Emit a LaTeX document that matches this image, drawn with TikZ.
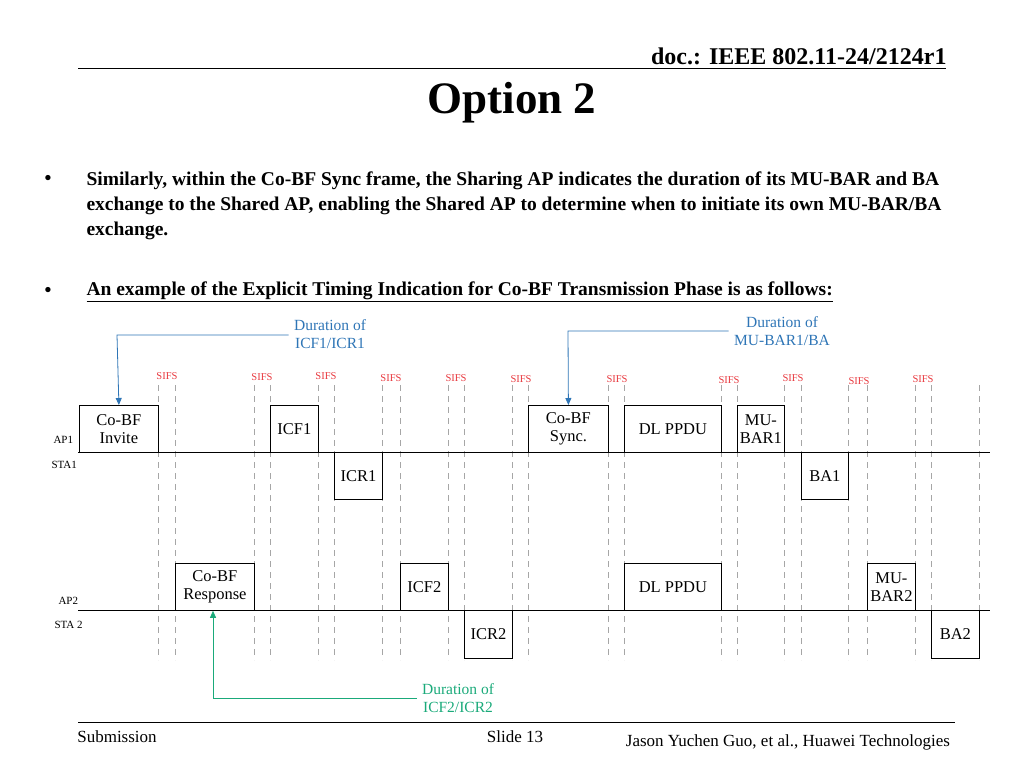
\documentclass[tikz,border=0pt]{standalone}
\usepackage{fontspec}
\setmainfont{Liberation Serif}
\definecolor{sifsred}{HTML}{E8393F}
\definecolor{durblue}{HTML}{2E75B6}
\definecolor{durgreen}{HTML}{1AAA7A}
\usetikzlibrary{arrows.meta,positioning}

\begin{document}
\begin{tikzpicture}[%
    x=1pt, y=-1pt,
    frame/.style={draw, thick, anchor=north west, inner sep=0, align=center,
        font=\fontsize{16.5}{18}\selectfont},
    sifs/.style={text=sifsred, font=\fontsize{10.5}{11}\selectfont},
    guide/.style={draw=black!35, dashed, dash pattern=on 6pt off 5pt},
    durlabel/.style={align=center, font=\fontsize{15.5}{18}\selectfont},
    station/.style={font=\fontsize{11}{12}\selectfont, anchor=west},
    pointer/.style={thick, -{Triangle[length=7pt,width=6pt]}},
    bodytext/.style={font=\bfseries\fontsize{19.5}{25}\selectfont},
    foot/.style={font=\fontsize{17}{19}\selectfont},
]
\useasboundingbox (0,0) rectangle (1024,768);

% header and footer
\node[font=\bfseries\fontsize{24}{26}\selectfont, anchor=base east] (doc) at (950,64) {doc.: IEEE 802.11-24/2124r1};
\draw[thick] (78,68) -- (946,68);
\node[font=\bfseries\fontsize{45}{48}\selectfont] (title) at (512,103) {Option 2};
\node[bodytext, anchor=north west, text width=890, align=flush left] (bulletA) at (83,168)
    {Similarly, within the Co-BF Sync frame, the Sharing AP indicates the duration of its MU-BAR and BA exchange to the Shared AP, enabling the Shared AP to determine when to initiate its own MU-BAR/BA exchange.};
\node[bodytext, anchor=west] (bulletB) at (83,292)
    {\underline{An example of the Explicit Timing Indication for Co-BF Transmission Phase is as follows:}};
\node[bodytext] (dotA) at (48,180) {\textbullet};
\node[bodytext] (dotB) at (48,292) {\textbullet};
\draw[thick] (78,722) -- (955,722);
\node[foot] (sub) at (117,737) {Submission};
\node[foot] (slide) at (515,737) {Slide 13};
\node[foot] (auth) at (788,742) {Jason Yuchen Guo, et al., Huawei Technologies};

% SIFS guides
\foreach \gx in {158,175,254,270,318,334,382,400,448,464,512,528,608,624,721,737,784,801,848,867,915,931,979}
    \draw[guide] (\gx,385) -- (\gx,660);
\foreach \sx/\sy in {167/376,262/377,326/376,391/378,456/378,521/379,617/379,729/380,793/378,859/381,923/379}
    \node[sifs] at (\sx,\sy) {SIFS};

% time lines
\draw[thick] (78,452) -- (990,452);
\draw[thick] (78,610) -- (990,610);
\node[station] (ap1) at (50,440) {AP1};
\node[station] (sta1) at (48,465) {STA1};
\node[station] (ap2) at (55,601) {AP2};
\node[station] (sta2) at (51,625) {STA 2};

% frames of AP1 / STA1
\node[frame, minimum width=79, minimum height=47] (invite) at (79,405) {Co-BF\\Invite};
\node[frame, minimum width=48, minimum height=47] (icf1) at (270,405) {ICF1};
\node[frame, minimum width=48, minimum height=47] (icr1) at (334,452) {ICR1};
\node[frame, minimum width=80, minimum height=47] (sync) at (528,405) {Co-BF\\Sync.};
\node[frame, minimum width=97, minimum height=47] (ppdu1) at (624,405) {DL PPDU};
\node[frame, minimum width=47, minimum height=47] (bar1) at (737,405) {MU-\\BAR1};
\node[frame, minimum width=47, minimum height=47] (ba1) at (801,452) {BA1};

% frames of AP2 / STA 2
\node[frame, minimum width=79, minimum height=47] (resp) at (175,563) {Co-BF\\Response};
\node[frame, minimum width=48, minimum height=47] (icf2) at (400,563) {ICF2};
\node[frame, minimum width=48, minimum height=48] (icr2) at (464,610) {ICR2};
\node[frame, minimum width=97, minimum height=47] (ppdu2) at (624,563) {DL PPDU};
\node[frame, minimum width=48, minimum height=47] (bar2) at (867,563) {MU-\\BAR2};
\node[frame, minimum width=48, minimum height=48] (ba2) at (931,610) {BA2};

% duration pointers
\node[durlabel, text=durblue] (durA) at (330,334) {Duration of\\ICF1/ICR1};
\node[durlabel, text=durblue] (durB) at (782,331) {Duration of\\MU-BAR1/BA};
\node[durlabel, text=durgreen] (durC) at (458,698) {Duration of\\ICF2/ICR2};
\coordinate (kneeA) at (117,335);
\coordinate (kneeB) at (568,331);
\coordinate (kneeC) at (213,698);
\draw[pointer, durblue] (durA.west |- kneeA) ++(-2,0) -- (kneeA) -- (invite.north);
\draw[pointer, durblue] (durB.west |- kneeB) ++(-2,0) -- (kneeB) -- (sync.north);
\draw[pointer, durgreen] (durC.west |- kneeC) ++(-2,0) -- (kneeC) -- (resp.south -| kneeC);
\end{tikzpicture}
\end{document}
